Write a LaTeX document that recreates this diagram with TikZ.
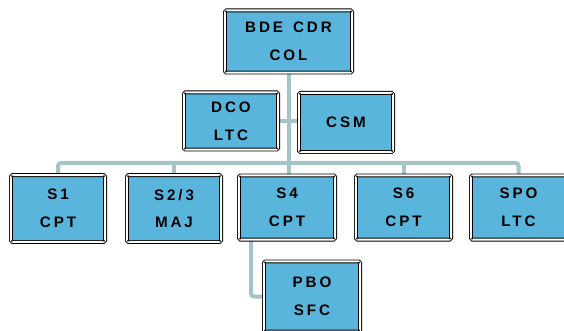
\documentclass[tikz,border=0pt]{standalone}
\usepackage{fontspec}
\newfontfamily\labfont{Liberation Sans}[LetterSpace=19]
\usetikzlibrary{backgrounds,calc}
\definecolor{boxblue}{HTML}{5AB5DC}
\definecolor{linkcol}{HTML}{A5C4C8}
\tikzset{
  orgbox/.style={draw=black, fill=boxblue, line width=0.9pt, double=white,
    double distance=2pt, rounded corners=1.5pt, inner sep=0pt, align=center,
    font=\labfont\bfseries\fontsize{15.2}{27.6}\selectfont},
  link/.style={draw=linkcol, line width=4pt},
  cornerdot/.style={fill=black, draw=none}
}
\newcommand{\obx}[6]{% name, cx, cy, outer w, outer h, text
  \node[orgbox, minimum width={#4pt-3.8pt}, minimum height={#5pt-3.8pt}] (#1) at (#2,#3) {#6};
}
\begin{document}
\begin{tikzpicture}[x=1pt,y=-1pt]
\useasboundingbox (0,0) rectangle (564,331);
\obx{top}{288.5}{41.5}{131}{66}{BDE\hspace{3pt} CDR\\COL}
\obx{DCO}{231}{121}{98}{61}{DCO\\LTC}
\obx{CSM}{346}{122.5}{98}{63}{CSM}
\obx{S1}{58}{208.5}{98}{70.6}{S1\\CPT}
\obx{S23}{174}{208.5}{98}{70.6}{S2/3\\MAJ}
\obx{S4}{287}{207.5}{100}{68}{S4\\CPT}
\obx{S6}{403.5}{207.5}{99}{68}{S6\\CPT}
\obx{SPO}{518.5}{207.5}{99}{68}{SPO\\LTC}
\obx{PBO}{312}{296.5}{100}{74}{PBO\\SFC}
\foreach \n in {top,DCO,CSM,S1,S23,S4,S6,SPO,PBO}{
  \fill[cornerdot] ([xshift=1.5pt,yshift=-1.5pt]\n.north west) circle (1pt);
  \fill[cornerdot] ([xshift=-1.5pt,yshift=-1.5pt]\n.north east) circle (1pt);
  \fill[cornerdot] ([xshift=1.5pt,yshift=1.5pt]\n.south west) circle (1pt);
  \fill[cornerdot] ([xshift=-1.5pt,yshift=1.5pt]\n.south east) circle (1pt);
}
\coordinate (bar) at (0,163);
\coordinate (pbodrop) at (251,0);
\begin{scope}[on background layer]
  \draw[link] (top.south) -- (top.south |- S4.north);
  \draw[link] (DCO.east) -- (CSM.west |- DCO.east);
  \draw[link, rounded corners=3pt] (S1.north) -- (S1.north |- bar) -- (SPO.north |- bar) -- (SPO.north);
  \draw[link] (S23.north) -- (S23.north |- bar);
  \draw[link] (S6.north) -- (S6.north |- bar);
  \draw[link, rounded corners=3pt] (S4.south -| pbodrop) |- (PBO.west);
\end{scope}
\end{tikzpicture}
\end{document}
